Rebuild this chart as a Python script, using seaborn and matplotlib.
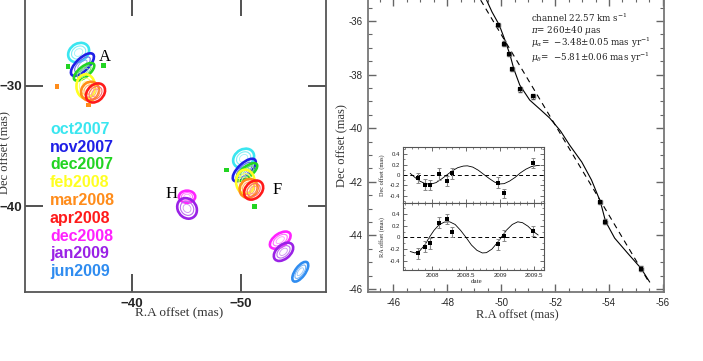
import numpy as np
import pandas as pd
import matplotlib
matplotlib.use("Agg")
import matplotlib.pyplot as plt
import seaborn as sns
from matplotlib.patches import Ellipse
from matplotlib.ticker import MultipleLocator, FixedLocator

# ---------------- data ----------------
epochs = ["oct2007", "nov2007", "dec2007", "feb2008", "mar2008",
          "apr2008", "dec2008", "jan2009", "jun2009"]
epoch_colors = ["#3ae6f0", "#1f1fe6", "#22d422", "#ffff22", "#ff8c1a",
                "#ff1a1a", "#ff22ff", "#9a22e6", "#2f8cf0"]

# maser spots (left panel): epoch index, RA, Dec, major, minor, angle
spot_epoch = [0, 1, 2, 3, 4, 5, 0, 1, 2, 3, 4, 5, 6, 7, 6, 7, 8]
spot_ra = [-35.10, -35.45, -35.60, -35.75, -36.15, -36.65,
           -50.24, -50.30, -50.55, -50.40, -50.70, -51.16,
           -45.05, -45.05, -53.60, -53.90, -55.44]
spot_dec = [-27.25, -28.25, -28.85, -30.05, -30.45, -30.60,
            -36.02, -36.99, -37.15, -37.96, -38.51, -38.65,
            -39.20, -40.17, -42.80, -43.77, -45.42]
spot_w = [2.0, 2.6, 2.2, 1.7, 1.7, 1.9, 2.0, 2.6, 2.2, 1.7, 1.7, 1.9,
          1.5, 1.6, 2.1, 2.0, 2.0]
spot_h = [1.5, 1.1, 0.9, 2.0, 1.5, 1.4, 1.5, 1.1, 0.9, 2.0, 1.5, 1.4,
          1.0, 1.9, 1.1, 1.2, 0.9]
spot_ang = [-25, -40, -35, 0, -30, -35, -25, -40, -35, 0, -30, -35,
            0, -55, -30, -35, -50]

# tiny single spots
small_epoch = [2, 2, 4, 4, 2, 2]
small_ra = [-34.13, -37.39, -33.12, -36.00, -48.65, -51.25]
small_dec = [-28.39, -28.34, -30.05, -31.60, -36.99, -39.98]

feature_names = ["A", "F", "H"]
feature_ra = [-37.5, -53.3, -43.6]
feature_dec = [-27.6, -38.65, -39.0]

# right panel: feature F positions
date = [2007.80, 2007.90, 2007.97, 2008.11, 2008.22, 2008.29, 2008.97, 2009.06, 2009.49]
ra_off = [-49.88, -50.09, -50.29, -50.40, -50.70, -51.17, -53.67, -53.86, -55.19]
dec_off = [-36.15, -36.85, -37.23, -37.79, -38.54, -38.81, -42.75, -43.49, -45.24]
ra_err = [0.07, 0.07, 0.07, 0.07, 0.07, 0.07, 0.07, 0.07, 0.07]
dec_err = [0.09, 0.09, 0.09, 0.09, 0.09, 0.09, 0.09, 0.09, 0.09]

# full fit
fit_ra = [-49.46, -49.66, -49.93, -50.14, -50.33, -50.47, -50.69, -51.06,
          -51.45, -51.80, -52.20, -52.54, -52.99, -53.35, -53.68, -53.87,
          -54.21, -54.69, -55.19, -55.51]
fit_dec = [-35.22, -35.66, -36.15, -36.71, -37.27, -37.79, -38.39, -38.95,
           -39.30, -39.62, -40.10, -40.63, -41.26, -41.93, -42.74, -43.47,
           -44.10, -44.66, -45.23, -45.74]
# proper motion only
pm_ra = [-49.24, -55.51]
pm_dec = [-35.22, -45.79]

# residuals (inset)
dec_res = [-0.06, -0.19, -0.19, 0.02, -0.12, 0.03, -0.15, -0.36, 0.23]
dec_res_err = [0.10, 0.11, 0.10, 0.11, 0.10, 0.11, 0.10, 0.08, 0.09]
ra_res = [-0.27, -0.16, -0.10, 0.25, 0.31, 0.09, -0.12, 0.03, 0.11]
ra_res_err = [0.09, 0.09, 0.09, 0.09, 0.09, 0.09, 0.09, 0.09, 0.09]

par_t_dec = [2007.68, 2007.75, 2007.82, 2007.90, 2007.98, 2008.06, 2008.14,
             2008.22, 2008.30, 2008.38, 2008.46, 2008.52, 2008.60, 2008.68,
             2008.76, 2008.84, 2008.92, 2009.00, 2009.06, 2009.14, 2009.22,
             2009.30, 2009.38, 2009.46, 2009.54, 2009.58]
par_dec = [0.03, -0.05, -0.12, -0.17, -0.18, -0.15, -0.08, 0.00, 0.08, 0.14,
           0.17, 0.175, 0.15, 0.09, 0.01, -0.07, -0.14, -0.175, -0.17, -0.12,
           -0.05, 0.04, 0.11, 0.16, 0.18, 0.18]
par_t_ra = [2007.68, 2007.75, 2007.82, 2007.90, 2007.96, 2008.03, 2008.10,
            2008.18, 2008.26, 2008.34, 2008.42, 2008.50, 2008.58, 2008.66,
            2008.74, 2008.80, 2008.88, 2008.96, 2009.03, 2009.10, 2009.18,
            2009.26, 2009.33, 2009.41, 2009.49, 2009.56]
par_ra = [-0.24, -0.265, -0.23, -0.12, 0.0, 0.12, 0.21, 0.26, 0.265, 0.22,
          0.12, 0.0, -0.13, -0.22, -0.265, -0.26, -0.20, -0.09, 0.02, 0.13,
          0.22, 0.265, 0.25, 0.19, 0.10, 0.04]

inset_xticks = [2008, 2008.5, 2009, 2009.5]
inset_xlabels = ["2008", "2008.5", "2009", "2009.5"]
inset_yticks = [-0.4, -0.2, 0, 0.2, 0.4]
inset_ylabels = ["-0.4", "-0.2", "0", "0.2", "0.4"]

# ---------------- style ----------------
sns.set_theme(style="ticks")
plt.rcParams['font.family'] = ['Liberation Sans', 'DejaVu Sans']
plt.rcParams['mathtext.fontset'] = 'dejavuserif'
SERIF = ['Liberation Serif', 'DejaVu Serif']
FRAME = "#555555"

W, H = 703, 361
fig = plt.figure(figsize=(W / 100, H / 100), dpi=100)


def ax_rect(x0, x1, ytop, ybot):
    return [x0 / W, 1 - ybot / H, (x1 - x0) / W, (ybot - ytop) / H]


def lighten(c, f):
    r, g, b = matplotlib.colors.to_rgb(c)
    return (r + (1 - r) * f, g + (1 - g) * f, b + (1 - b) * f)


# ---------------- left panel ----------------
axL = fig.add_axes(ax_rect(25, 326, -2, 292))
axL.set_xlim(-30.18, -57.8)
axL.set_ylim(-47.1, -22.73)

for e, ra, de, w, h, a in zip(spot_epoch, spot_ra, spot_dec, spot_w, spot_h, spot_ang):
    c = epoch_colors[e]
    for s, lw, f in [(1.0, 1.9, 0.0), (0.68, 0.8, 0.35), (0.4, 0.6, 0.5)]:
        axL.add_patch(Ellipse((ra, de), w * s, h * s, angle=a, fill=False,
                              edgecolor=lighten(c, f), lw=lw))

small_df = pd.DataFrame({"ra": small_ra, "dec": small_dec,
                         "epoch": [epochs[i] for i in small_epoch]})
sns.scatterplot(data=small_df, x="ra", y="dec", hue="epoch",
                palette={epochs[i]: epoch_colors[i] for i in range(len(epochs))},
                marker="s", s=12, linewidth=0, legend=False, ax=axL)

for n, ra, de in zip(feature_names, feature_ra, feature_dec):
    axL.text(ra, de, n, family=SERIF, fontsize=12, color="black",
             ha="center", va="center")

for i, (lab, col) in enumerate(zip(epochs, epoch_colors)):
    axL.text(0.083, 0.553 - i * 0.0605, lab, transform=axL.transAxes,
             color=col, fontsize=11.5, fontweight="bold", va="center", ha="left")

axL.xaxis.set_major_locator(FixedLocator([-40, -50]))
axL.yaxis.set_major_locator(FixedLocator([-30, -40]))
axL.tick_params(direction="in", length=13, width=1.2, color="#333333",
                top=True, right=True, labelsize=9.5)
axL.tick_params(axis="y", pad=2)
axL.tick_params(axis="x", pad=4)
for lab in axL.get_xticklabels() + axL.get_yticklabels():
    lab.set_fontweight("bold")
for sp in axL.spines.values():
    sp.set_color(FRAME)
    sp.set_linewidth(1.3)
axL.set_xlabel("R.A offset (mas)", family=SERIF, fontsize=9.5, color="#333333")
axL.set_ylabel("Dec offset (mas)", family=SERIF, fontsize=9, color="#333333")
axL.xaxis.set_label_coords(0.513, -0.052)
axL.yaxis.set_label_coords(-0.047, 0.473)

# ---------------- right panel ----------------
axR = fig.add_axes(ax_rect(368, 664, -2, 292))
axR.set_xlim(-45.06, -56.04)
axR.set_ylim(-46.11, -35.14)

sns.lineplot(x=fit_ra, y=fit_dec, sort=False, color="black", lw=0.8, ax=axR)
sns.lineplot(x=pm_ra, y=pm_dec, sort=False, color="black", lw=0.8,
             dashes=False, ax=axR)
axR.lines[-1].set_dashes([5, 4])
axR.errorbar(ra_off, dec_off, xerr=ra_err, yerr=dec_err, fmt="none",
             ecolor="#555555", elinewidth=0.9, capsize=1.5)
sns.scatterplot(x=ra_off, y=dec_off, marker="s", s=11, color="black",
                linewidth=0, ax=axR, zorder=5)

axR.xaxis.set_major_locator(MultipleLocator(2))
axR.xaxis.set_minor_locator(MultipleLocator(0.5))
axR.yaxis.set_major_locator(MultipleLocator(2))
axR.yaxis.set_minor_locator(MultipleLocator(0.5))
axR.tick_params(which="major", direction="in", length=6, width=1.0,
                color="#666666", top=True, right=True, labelsize=7, pad=4)
axR.tick_params(which="minor", direction="in", length=3, width=0.8,
                color="#666666", top=True, right=True)
axR.xaxis.set_major_formatter(matplotlib.ticker.FuncFormatter(lambda v, p: f"{v:.0f}"))
axR.yaxis.set_major_formatter(matplotlib.ticker.FuncFormatter(lambda v, p: f"{v:.0f}"))
for sp in axR.spines.values():
    sp.set_color("#777777")
    sp.set_linewidth(1.3)
axR.set_xlabel("R.A offset (mas)", family=SERIF, fontsize=9, color="#333333")
axR.set_ylabel("Dec offset (mas)", family=SERIF, fontsize=9, color="#333333")
axR.xaxis.set_label_coords(0.503, -0.058)
axR.yaxis.set_label_coords(-0.068, 0.497)

info = ["channel 22.57 km s$^{-1}$",
        r"$\pi$= 260$\pm$40 $\mu$as",
        r"$\mu_\alpha$=  $-$3.48$\pm$0.05 mas yr$^{-1}$",
        r"$\mu_\delta$=  $-$5.81$\pm$0.06 mas yr$^{-1}$"]
for i, t in enumerate(info):
    axR.text(0.551, [0.934, 0.889, 0.846, 0.797][i], t, transform=axR.transAxes,
             family=['DejaVu Serif'], fontsize=6.3, color="#222222",
             va="center", ha="left")

# ---------------- inset ----------------
axT = fig.add_axes(ax_rect(402.7, 544.3, 146.7, 203.3))
axB = fig.add_axes(ax_rect(402.7, 544.3, 203.3, 270))
for a in (axT, axB):
    a.set_facecolor("white")
    a.set_xlim(2007.57, 2009.65)
    a.axhline(0, color="black", lw=0.7, dashes=[4, 3])
    a.xaxis.set_major_locator(FixedLocator(inset_xticks))
    a.xaxis.set_minor_locator(MultipleLocator(0.1))
    a.yaxis.set_major_locator(FixedLocator(inset_yticks))
    a.yaxis.set_minor_locator(MultipleLocator(0.1))
    a.set_yticklabels(inset_ylabels)
    a.tick_params(which="major", direction="in", length=3, width=0.6,
                  color="#555555", top=True, right=True, labelsize=4.3, pad=2)
    a.tick_params(which="minor", direction="in", length=1.5, width=0.5,
                  color="#555555", top=True, right=True)
    for sp in a.spines.values():
        sp.set_color("#555555")
        sp.set_linewidth(0.8)

axT.set_ylim(-0.55, 0.545)
axB.set_ylim(-0.555, 0.58)
axT.set_xticklabels([])
axB.set_xticklabels(inset_xlabels)

sns.lineplot(x=par_t_dec, y=par_dec, sort=False, color="black", lw=0.6, ax=axT)
axT.errorbar(date, dec_res, yerr=dec_res_err, fmt="none", ecolor="#888888",
             elinewidth=0.8, capsize=1.6, capthick=0.7)
sns.scatterplot(x=date, y=dec_res, marker="s", s=6, color="black",
                linewidth=0, ax=axT, zorder=5)

sns.lineplot(x=par_t_ra, y=par_ra, sort=False, color="black", lw=0.6, ax=axB)
axB.errorbar(date, ra_res, yerr=ra_res_err, fmt="none", ecolor="#888888",
             elinewidth=0.8, capsize=1.6, capthick=0.7)
sns.scatterplot(x=date, y=ra_res, marker="s", s=6, color="black",
                linewidth=0, ax=axB, zorder=5)

axT.set_ylabel("Dec offset (mas)", fontsize=4.5, family=SERIF)
axB.set_ylabel("RA offset (mas)", fontsize=4.5, family=SERIF)
axT.yaxis.set_label_coords(-0.125, 0.5)
axB.yaxis.set_label_coords(-0.125, 0.5)
axB.set_xlabel("date", fontsize=5, family=SERIF)
axB.xaxis.set_label_coords(0.523, -0.14)

fig.savefig("out.png", dpi=100)
